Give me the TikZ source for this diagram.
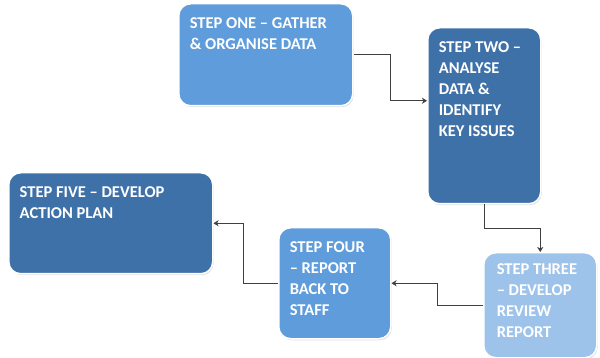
\documentclass[tikz,border=0pt]{standalone}
\usepackage{fontspec}
\setmainfont{Carlito}
\usepackage{tikz}
\usetikzlibrary{arrows.meta,calc,shadows}
\definecolor{stepmid}{HTML}{5E9CDB}
\definecolor{stepdark}{HTML}{3F71A9}
\definecolor{steplight}{HTML}{9EC3EA}

\begin{document}
\begin{tikzpicture}[x=1pt,y=-1pt,
		stepbox/.style={rounded corners=12pt, draw=white, line width=1.5pt,
			drop shadow={shadow xshift=1pt, shadow yshift=-1.5pt, opacity=0.25},
			anchor=north west, inner xsep=11pt, inner ysep=14pt,
			text=white, font=\bfseries\fontsize{16.5}{21}\selectfont},
		link/.style={draw=black!75, line width=0.7pt, -{Stealth[length=5pt,width=6pt,inset=1.5pt]}}]
		\useasboundingbox (0,0) rectangle (600,358);
		% the five steps
		\node[stepbox, fill=stepmid] (one) at (178,3)
			{\parbox[t][74pt][t]{152pt}{STEP ONE -- GATHER\\ \& ORGANISE DATA}};
		\node[stepbox, fill=stepdark] (two) at (427,27)
			{\parbox[t][148pt][t]{91pt}{STEP TWO --\\ ANALYSE\\ DATA \&\\ IDENTIFY\\ KEY ISSUES}};
		\node[stepbox, fill=steplight, inner xsep=13pt, inner ysep=11pt] (three) at (483,252)
			{\parbox[t][83pt][t]{87pt}{STEP THREE\\ -- DEVELOP\\ REVIEW\\ REPORT}};
		\node[stepbox, fill=stepmid] (four) at (278,227)
			{\parbox[t][83pt][t]{90pt}{STEP FOUR\\ -- REPORT\\ BACK TO\\ STAFF}};
		\node[stepbox, fill=stepdark] (five) at (8,172)
			{\parbox[t][73pt][t]{182pt}{STEP FIVE -- DEVELOP\\ ACTION PLAN}};
		% connectors
		\draw[link] (one.east) -- ++(37,0) |- ([yshift=15pt]two.west);
		\draw[link] (two.south) -- ++(0,24) -| (three.north);
		\draw[link] (three.west) -- ++(-46,0) |- (four.east);
		\draw[link] (four.west) -- ++(-35,0) |- (five.east);
	\end{tikzpicture}
\end{document}
